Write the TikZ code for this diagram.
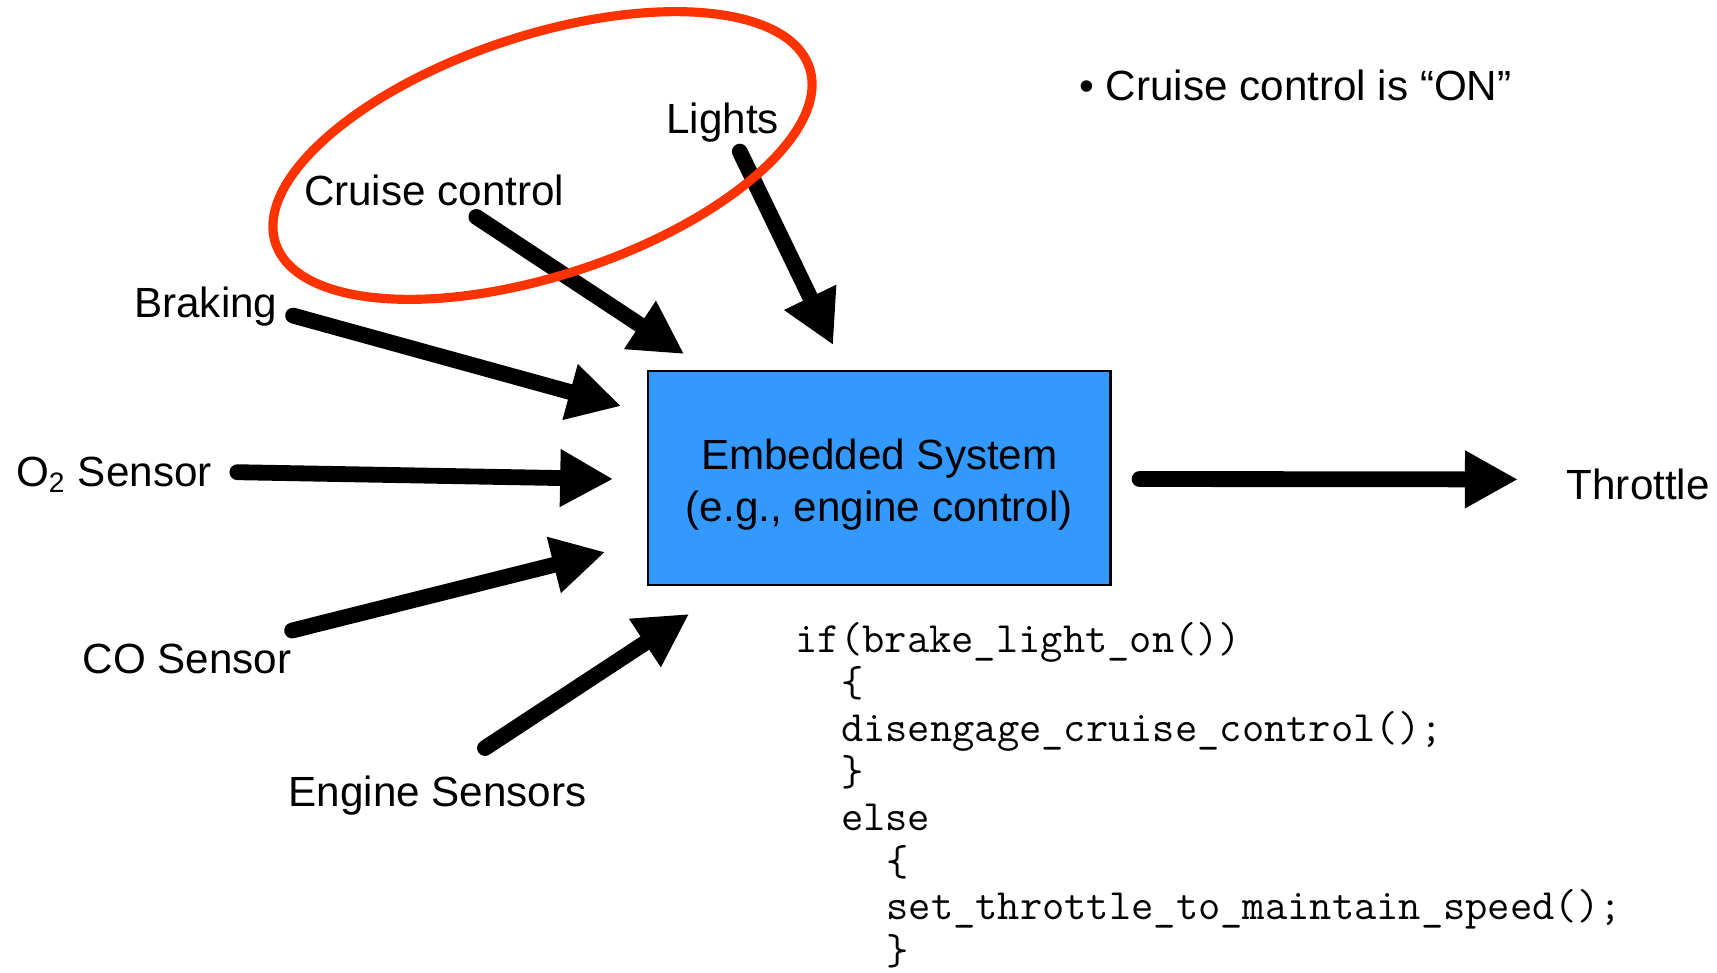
\documentclass[tikz,border=0pt]{standalone}
\usepackage{fontspec}
\setmainfont{Liberation Sans}
\usepackage{xcolor}
\usepackage{tikz}
\usetikzlibrary{arrows.meta}
\definecolor{sysblue}{RGB}{51,153,255}
\definecolor{hlred}{RGB}{255,51,0}
\tikzset{
  lbl/.style   ={inner sep=0pt, anchor=base west, font=\fontsize{12}{15}\selectfont},
  sysbox/.style={rectangle, draw=black, line width=0.6pt, fill=sysblue,
                 minimum width=4.62cm, minimum height=2.136cm, inner sep=0pt},
  codeln/.style={inner sep=0pt, anchor=base west, font=\ttfamily\fontsize{12.3}{12.7}\selectfont},
  ar/.style    ={-{Triangle[length=5.3mm, width=5.4mm]}, line width=4.5pt, line cap=round},
  hl/.style    ={draw=hlred, line width=2.6pt},
}
\begin{document}
\begin{tikzpicture}[x=0.01cm, y=-0.01cm]
\useasboundingbox (0,0) rectangle (1717,972);
\node[sysbox] (sys) at (879.4,478) {};
\node[lbl, anchor=center, align=center] (systxt) at (879.4,484.5) {Embedded System\\(e.g., engine control)};
\node[lbl] (lgt) at (665.8,133.6) {Lights};
\node[lbl] (cru) at (303.3,205.9) {Cruise control};
\node[lbl] (brk) at (133.6,317.6) {Braking};
\node[lbl] (oxy) at (15.3,486.2) {O\textsubscript{2} Sensor};
\node[lbl] (cos) at (82,673.5) {CO Sensor};
\node[lbl] (eng) at (288,806) {Engine Sensors};
\node[lbl] (thr) at (1566,499.4) {Throttle};
\node[lbl] (note) at (1078.7,100.7) {\textbullet\ Cruise control is “ON”};
\foreach \dx/\ln [count=\k from 0] in {0/{if(brake\_light\_on())}, 2/\{, 2/{disengage\_cruise\_control();},
    2/\}, 2/else, 4/\{, 4/{set\_throttle\_to\_maintain\_speed();}, 4/\}}
  \node[codeln] (code\k) at (795+\dx*22.7, 652+\k*44.6) {\ln};
\draw[ar] ([shift={(173,11)}]cru.base west) -- ([shift={(37,-16)}]sys.north west);
\draw[ar] ([shift={(74,18)}]lgt.base west) -- ([shift={(186,-25)}]sys.north west);
\draw[ar] ([shift={(15,-2)}]brk.base east) -- ([shift={(-26,36)}]sys.north west);
\draw[ar] ([shift={(25,-14)}]oxy.base east) -- ([shift={(-34,1)}]sys.west);
\draw[ar] ([shift={(0,-43)}]cos.base east) -- ([shift={(-42,74)}]sys.west);
\draw[ar] ([shift={(197,-58)}]eng.base west) -- ([shift={(42,28)}]sys.south west);
\draw[ar] ([shift={(28,1)}]sys.east) -- ([shift={(-48,-20)}]thr.base west);
\draw[hl] (542.5,155.5) ellipse [x radius=281, y radius=120, rotate=18.2];
\end{tikzpicture}
\end{document}
